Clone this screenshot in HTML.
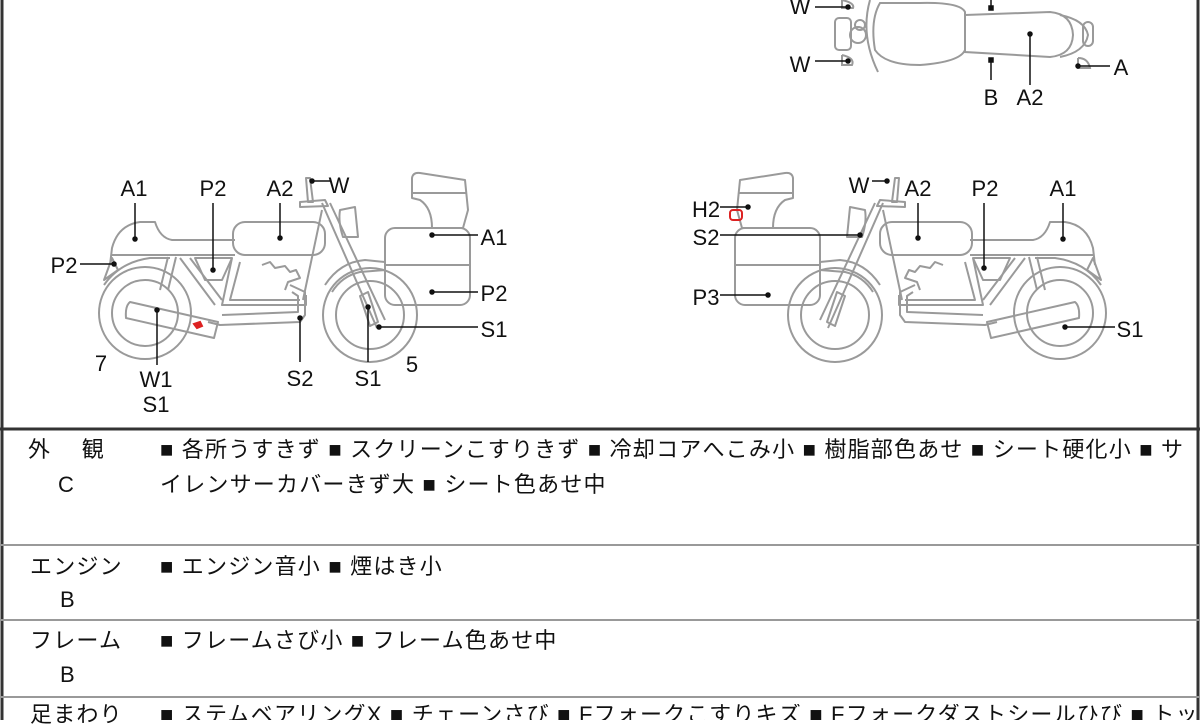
<!DOCTYPE html>
<html><head><meta charset="utf-8"><style>
body{margin:0;width:1200px;height:720px;overflow:hidden;background:#fff;position:relative;font-family:"Liberation Sans","Noto Sans CJK JP",sans-serif;color:#111}
svg{position:absolute;left:0;top:0}
.t{position:absolute;font-size:22px;white-space:nowrap;line-height:1;letter-spacing:1.2px}
.hl{position:absolute;left:0;width:1200px;height:2px;background:#999}
</style></head><body>
<svg width="1200" height="720" viewBox="0 0 1200 720">
<defs>
<g id="bike" fill="none" stroke="#9a9a9a" stroke-width="2" stroke-linejoin="round">
 <circle cx="145" cy="313" r="46"/><circle cx="145" cy="313" r="33"/>
 <circle cx="370" cy="315" r="47"/><circle cx="370" cy="315" r="34"/>
 <path d="M104 285 Q120 262 150 258 L170 258"/>
 <path d="M325 285 Q340 262 365 260 L385 262 L385 270 L360 272 Q342 276 332 292"/>
 <path d="M110 265 L112 248 Q118 225 140 222 L155 222 Q160 238 172 240 L235 240"/>
 <path d="M112 255 L235 255"/>
 <path d="M112 258 L104 280 L118 270 Z"/>
 <rect x="233" y="222" width="92" height="33" rx="12"/>
 <path d="M340 210 L355 207 L358 237 L343 237 Q338 222 340 210Z"/>
 <path d="M300 202 L325 200 L328 206 L300 207Z"/>
 <path d="M322 203 L377 328 M330 203 L385 320 M322 210 L303 300"/>
 <path d="M360 296 L368 292 L378 322 L370 326Z"/>
 <path d="M306 178 L310 178 L313 202 L308 202 Z"/>
 <path d="M168 257 L160 290 M176 257 L168 290 M180 258 L215 305 M190 258 L222 300"/>
 <path d="M195 258 L232 258 L222 280 L205 280Z"/>
 <path d="M232 258 L222 305 L306 305 L306 295 M240 262 L230 300 L300 300"/>
 <path d="M262 265 L270 262 L275 268 L285 266 L290 272 L296 270 L300 278 L288 282 L285 290"/>
 <path d="M290 285 L305 292 L305 315 L300 322 L220 325 L208 322 M292 292 L298 296 L298 312 L222 315"/>
 <path d="M130 302 L218 322 L214 338 L126 318 Q125 306 130 302Z"/>
 <rect x="385" y="228" width="85" height="77" rx="10"/>
 <path d="M385 265 L470 265"/>
 <path d="M412 178 Q413 172 420 173 L465 180 L468 210 L463 228 L432 228 Q432 208 420 200 L412 198 Z"/>
 <path d="M412 193 L467 193"/>
</g>
</defs>
<line x1="2" y1="0" x2="2" y2="720" stroke="#333" stroke-width="3"/>
<line x1="1198" y1="0" x2="1198" y2="720" stroke="#333" stroke-width="3"/>
<line x1="0" y1="429" x2="1200" y2="429" stroke="#333" stroke-width="3"/>
<use href="#bike"/>
<use href="#bike" transform="translate(1205,0) scale(-1,1)"/>
<path d="M194 324 L200 322 L202 326 L197 328Z" fill="#d22" stroke="#d22" stroke-width="2"/>
<rect x="730" y="210" width="12" height="10" rx="3" fill="none" stroke="#d22" stroke-width="2"/>
<g fill="none" stroke="#9a9a9a" stroke-width="2">
 <path d="M880 3 Q870 20 875 50 Q885 65 920 65 Q960 62 965 50 L965 12 Q960 2 920 3 Z"/>
 <path d="M965 15 L1050 12 Q1072 14 1073 35 Q1072 55 1050 57 L965 52 Z"/>
 <path d="M1060 15 Q1085 20 1088 35 Q1085 52 1060 57"/>
 <rect x="1083" y="22" width="10" height="24" rx="5"/>
 <path d="M870 0 Q860 35 878 72"/>
 <rect x="835" y="18" width="16" height="32" rx="4"/>
 <circle cx="858" cy="35" r="8"/><circle cx="860" cy="25" r="5"/>
 <path d="M842 0 L842 8 L853 8 Q855 3 842 0 M842 55 L842 65 L852 65 Q855 58 842 55"/>
 <path d="M1078 58 L1078 68 L1090 68 Q1088 58 1078 58"/>
</g>
<g stroke="#111" stroke-width="1.5" fill="#111">
 <line x1="815" y1="7" x2="848" y2="7"/><circle cx="848" cy="7" r="2"/>
 <line x1="815" y1="61" x2="848" y2="61"/><circle cx="848" cy="61" r="2"/>
 <line x1="991" y1="0" x2="991" y2="10"/><rect x="989" y="6" width="4" height="4"/>
 <line x1="991" y1="60" x2="991" y2="80"/><rect x="989" y="58" width="4" height="4"/>
 <line x1="1030" y1="34" x2="1030" y2="85"/><circle cx="1030" cy="34" r="2"/>
 <line x1="1078" y1="66" x2="1110" y2="66"/><circle cx="1078" cy="66" r="2"/>
 <line x1="135" y1="203" x2="135" y2="239"/><circle cx="135" cy="239" r="2"/>
 <line x1="213" y1="203" x2="213" y2="270"/><circle cx="213" cy="270" r="2"/>
 <line x1="280" y1="203" x2="280" y2="238"/><circle cx="280" cy="238" r="2"/>
 <line x1="312" y1="181" x2="330" y2="181"/><circle cx="312" cy="181" r="2"/>
 <line x1="432" y1="235" x2="478" y2="235"/><circle cx="432" cy="235" r="2"/>
 <line x1="432" y1="292" x2="478" y2="292"/><circle cx="432" cy="292" r="2"/>
 <line x1="379" y1="327" x2="478" y2="327"/><circle cx="379" cy="327" r="2"/>
 <line x1="80" y1="264" x2="114" y2="264"/><circle cx="114" cy="264" r="2"/>
 <line x1="157" y1="310" x2="157" y2="365"/><circle cx="157" cy="310" r="2"/>
 <line x1="300" y1="318" x2="300" y2="362"/><circle cx="300" cy="318" r="2"/>
 <line x1="368" y1="307" x2="368" y2="362"/><circle cx="368" cy="307" r="2"/>
 <line x1="872" y1="181" x2="887" y2="181"/><circle cx="887" cy="181" r="2"/>
 <line x1="918" y1="203" x2="918" y2="238"/><circle cx="918" cy="238" r="2"/>
 <line x1="984" y1="203" x2="984" y2="268"/><circle cx="984" cy="268" r="2"/>
 <line x1="1063" y1="203" x2="1063" y2="239"/><circle cx="1063" cy="239" r="2"/>
 <line x1="720" y1="207" x2="748" y2="207"/><circle cx="748" cy="207" r="2"/>
 <line x1="720" y1="235" x2="860" y2="235"/><circle cx="860" cy="235" r="2"/>
 <line x1="720" y1="295" x2="768" y2="295"/><circle cx="768" cy="295" r="2"/>
 <line x1="1065" y1="327" x2="1115" y2="327"/><circle cx="1065" cy="327" r="2"/>
</g>
<g font-family="Liberation Sans, sans-serif" font-size="22" fill="#111" text-anchor="middle">
 <text x="800" y="14">W</text><text x="800" y="72">W</text>
 <text x="991" y="105">B</text><text x="1030" y="105">A2</text><text x="1121" y="75">A</text>
 <text x="134" y="196">A1</text><text x="213" y="196">P2</text><text x="280" y="196">A2</text><text x="339" y="193">W</text>
 <text x="494" y="245">A1</text><text x="494" y="301">P2</text><text x="494" y="337">S1</text>
 <text x="64" y="273">P2</text><text x="101" y="371">7</text>
 <text x="156" y="387">W1</text><text x="156" y="412">S1</text>
 <text x="300" y="386">S2</text><text x="368" y="386">S1</text><text x="412" y="372">5</text>
 <text x="859" y="193">W</text><text x="918" y="196">A2</text><text x="985" y="196">P2</text><text x="1063" y="196">A1</text>
 <text x="706" y="217">H2</text><text x="706" y="245">S2</text><text x="706" y="305">P3</text><text x="1130" y="337">S1</text>
</g>
</svg>
<div class="hl" style="top:544px"></div>
<div class="hl" style="top:619px"></div>
<div class="hl" style="top:696px"></div>
<div class="t" style="left:28px;top:439px">外　 観</div>
<div class="t" style="left:58px;top:474px">C</div>
<div class="t" style="left:160px;top:439px">■ 各所うすきず ■ スクリーンこすりきず ■ 冷却コアへこみ小 ■ 樹脂部色あせ ■ シート硬化小 ■ サ</div>
<div class="t" style="left:160px;top:474px">イレンサーカバーきず大 ■ シート色あせ中</div>
<div class="t" style="left:30px;top:556px">エンジン</div>
<div class="t" style="left:60px;top:589px">B</div>
<div class="t" style="left:160px;top:556px">■ エンジン音小 ■ 煙はき小</div>
<div class="t" style="left:30px;top:630px">フレーム</div>
<div class="t" style="left:60px;top:664px">B</div>
<div class="t" style="left:160px;top:630px">■ フレームさび小 ■ フレーム色あせ中</div>
<div class="t" style="left:30px;top:704px">足まわり</div>
<div class="t" style="left:160px;top:704px;width:1035px;overflow:hidden;height:16px">■ ステムベアリングX ■ チェーンさび ■ Fフォークこすりキズ ■ Fフォークダストシールひび ■ トップブリッジ</div>
</body></html>
